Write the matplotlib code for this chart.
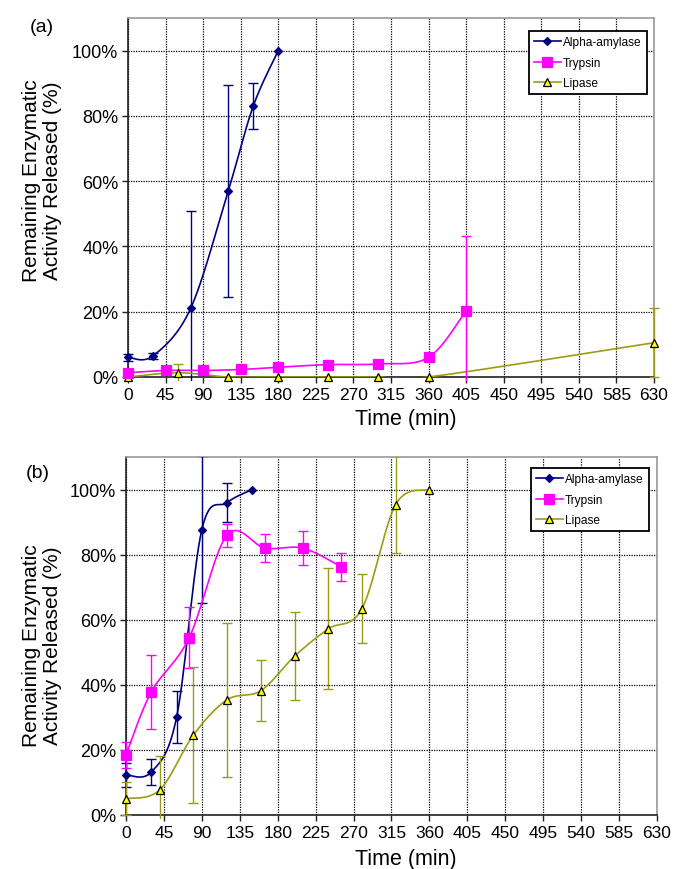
import numpy as np
import matplotlib
matplotlib.use("Agg")
import matplotlib.pyplot as plt
from matplotlib.patches import Rectangle
from matplotlib.ticker import FuncFormatter

plt.rcParams['font.family'] = ['Liberation Sans', 'DejaVu Sans']

# ---- Panel (a) data ----
a_amy_t = [0, 30, 75, 120, 150, 180]
a_amy_v = [6.0, 6.5, 21.0, 57.0, 83.0, 100.0]
a_amy_e = [1.0, 1.0, 30.0, 32.5, 7.0, 0.0]

a_try_t = [0, 45, 90, 135, 180, 240, 300, 360, 405]
a_try_v = [1.3, 2.0, 2.0, 2.3, 3.0, 3.8, 4.0, 6.0, 20.3]
a_try_e = [0, 0, 0, 0, 0, 0, 0, 0, 23.0]

a_lip_t = [0, 60, 120, 180, 240, 300, 360, 630]
a_lip_v = [0.0, 1.3, 0.0, 0.0, 0.0, 0.0, 0.0, 10.5]
a_lip_e = [0, 2.7, 0, 0, 0, 0, 0, 10.5]

# ---- Panel (b) data ----
b_amy_t = [0, 30, 60, 90, 120, 150]
b_amy_v = [12.3, 13.2, 30.0, 87.7, 96.0, 100.0]
b_amy_e = [3.7, 4.0, 8.0, 22.5, 6.0, 0.0]

b_try_t = [0, 30, 75, 120, 165, 210, 255]
b_try_v = [18.5, 37.8, 54.5, 86.0, 82.0, 82.0, 76.3]
b_try_e = [4.0, 11.5, 9.3, 3.5, 4.2, 5.3, 4.3]

b_lip_t = [0, 40, 80, 120, 160, 200, 240, 280, 320, 360]
b_lip_v = [5.0, 7.7, 24.6, 35.4, 38.2, 48.8, 57.2, 63.4, 95.4, 100.0]
b_lip_e = [5.0, 10.5, 21.0, 23.6, 9.3, 13.6, 18.6, 10.7, 15.0, 0.0]

x_ticks = list(range(0, 631, 45))
y_ticks = [0, 20, 40, 60, 80, 100]

series_style = {
    "Alpha-amylase": dict(color="#000080", marker="D", ms=4.5, mfc="#000080", mec="#000080"),
    "Trypsin": dict(color="#FF00FF", marker="s", ms=6.5, mfc="#FF00FF", mec="#FF00FF"),
    "Lipase": dict(color="#9C9C14", marker="^", ms=6, mfc="#FFFF00", mec="black"),
}


def smooth(x, y, n=30):
    """Bezier smoothing through the points (Catmull-Rom style)."""
    x = np.asarray(x, float)
    y = np.asarray(y, float)
    if len(x) < 3:
        return x, y
    px = np.concatenate([[x[0]], x, [x[-1]]])
    py = np.concatenate([[y[0]], y, [y[-1]]])
    xs, ys = [], []
    t = np.linspace(0, 1, n)
    for i in range(1, len(px) - 2):
        p0 = np.array([px[i], py[i]])
        p3 = np.array([px[i + 1], py[i + 1]])
        c1 = p0 + (np.array([px[i + 1], py[i + 1]]) - np.array([px[i - 1], py[i - 1]])) / 6.0
        c2 = p3 - (np.array([px[i + 2], py[i + 2]]) - np.array([px[i], py[i]])) / 6.0
        b = ((1 - t) ** 3)[:, None] * p0 + (3 * (1 - t) ** 2 * t)[:, None] * c1 \
            + (3 * (1 - t) * t ** 2)[:, None] * c2 + (t ** 3)[:, None] * p3
        xs.append(b[:, 0])
        ys.append(b[:, 1])
    return np.concatenate(xs), np.concatenate(ys)


def draw_series(ax, name, t, v, e):
    st = series_style[name]
    sx, sy = smooth(t, v)
    ax.plot(sx, sy, color=st["color"], lw=1.2, zorder=3)
    err_t = [ti for ti, ei in zip(t, e) if ei > 0]
    err_v = [vi for vi, ei in zip(v, e) if ei > 0]
    err_e = [ei for ei in e if ei > 0]
    if err_t:
        cont = ax.errorbar(err_t, err_v, yerr=err_e, fmt="none", ecolor=st["color"],
                           elinewidth=1.0, capsize=3.5, capthick=1.0, zorder=3)
        # let bars at the left/right edges show their full caps
        clip = Rectangle((-0.03, -0.012), 1.06, 1.013, transform=ax.transAxes,
                         facecolor="none", edgecolor="none")
        for art in list(cont.lines[1]) + list(cont.lines[2]):
            art.set_clip_path(clip)
    ax.plot(t, v, linestyle="none", marker=st["marker"], ms=st["ms"],
            mfc=st["mfc"], mec=st["mec"], mew=0.9, zorder=4, clip_on=False)
    # legend entry
    ax.plot([], [], color=st["color"], lw=1.2, marker=st["marker"], ms=st["ms"],
            mfc=st["mfc"], mec=st["mec"], mew=0.9, label=name)


def style_axes(ax):
    ax.set_xlim(0, 630)
    ax.set_ylim(0, 110)
    ax.set_xticks(x_ticks)
    ax.set_yticks(y_ticks)
    ax.yaxis.set_major_formatter(FuncFormatter(lambda v, p: f"{int(v)}%"))
    ax.grid(True, color="black", linestyle=(0, (1, 1)), linewidth=0.9)
    ax.set_axisbelow(True)
    for side in ("top", "right"):
        ax.spines[side].set_color("#9a9a9a")
        ax.spines[side].set_linewidth(1.2)
    for side in ("left", "bottom"):
        ax.spines[side].set_color("#222222")
        ax.spines[side].set_linewidth(1.2)
    ax.tick_params(axis="both", direction="out", length=4, width=1,
                   color="#222222")
    ax.tick_params(axis="y", labelsize=13, pad=3)
    ax.tick_params(axis="x", labelsize=12.5, pad=3)


fig = plt.figure(figsize=(6.76, 8.70), dpi=100)
ax_a = fig.add_axes([128 / 676, 1 - 378 / 870, (654 - 128) / 676, (378 - 19) / 870])
ax_b = fig.add_axes([126 / 676, 1 - 816 / 870, (657 - 126) / 676, (816 - 458) / 870])

draw_series(ax_a, "Alpha-amylase", a_amy_t, a_amy_v, a_amy_e)
draw_series(ax_a, "Lipase", a_lip_t, a_lip_v, a_lip_e)
draw_series(ax_a, "Trypsin", a_try_t, a_try_v, a_try_e)

draw_series(ax_b, "Alpha-amylase", b_amy_t, b_amy_v, b_amy_e)
draw_series(ax_b, "Trypsin", b_try_t, b_try_v, b_try_e)
draw_series(ax_b, "Lipase", b_lip_t, b_lip_v, b_lip_e)

for ax, corner in ((ax_a, (647 / 676, 1 - 32 / 870)), (ax_b, (649 / 676, 1 - 469 / 870))):
    style_axes(ax)
    handles, labels = ax.get_legend_handles_labels()
    order = [labels.index(n) for n in ("Alpha-amylase", "Trypsin", "Lipase")]
    leg = ax.legend([handles[i] for i in order], [labels[i] for i in order],
                    loc="upper right", bbox_to_anchor=corner, bbox_transform=fig.transFigure,
                    borderaxespad=0, fancybox=False, edgecolor="black", framealpha=1,
                    fontsize=8.6, handlelength=2.2, handletextpad=0.2, labelspacing=0.7,
                    borderpad=0.45)
    leg.get_frame().set_linewidth(1.3)
    leg.set_zorder(10)

# axis titles
ylab = "Remaining Enzymatic\nActivity Released (%)"
fig.text(42 / 676, 1 - 181 / 870, ylab, rotation=90, fontsize=15, ha="center",
         va="center", multialignment="center", linespacing=1.15)
fig.text(42 / 676, 1 - 646 / 870, ylab, rotation=90, fontsize=15, ha="center",
         va="center", multialignment="center", linespacing=1.15)
fig.text(406 / 676, 1 - 420 / 870, "Time (min)", fontsize=15.5, ha="center", va="center")
fig.text(406 / 676, 1 - 860 / 870, "Time (min)", fontsize=15.5, ha="center", va="center")

fig.text(30 / 676, 1 - 28 / 870, "(a)", fontsize=14, ha="left", va="center")
fig.text(26 / 676, 1 - 474 / 870, "(b)", fontsize=14, ha="left", va="center")

fig.savefig("out.png", dpi=100)
